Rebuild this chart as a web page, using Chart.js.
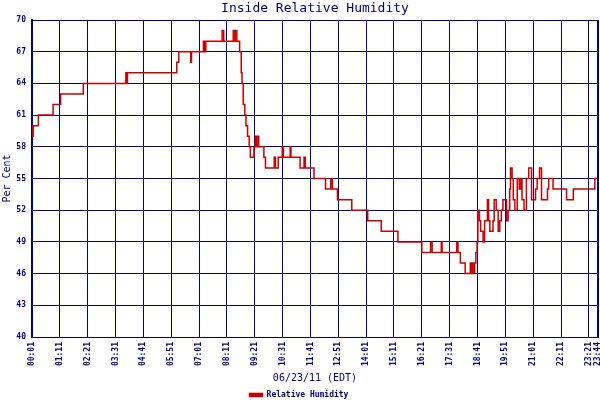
<!DOCTYPE html>
<html>
<head>
<meta charset="utf-8">
<title>Inside Relative Humidity</title>
<script src="https://cdn.jsdelivr.net/npm/chart.js@4"></script>
<style>
    html, body { margin: 0; padding: 0; background: #ffffff; }
</style>
</head>
<body>
<canvas id="humidityChart" width="600" height="400"></canvas>
<script>
// Tick labels along the time axis
const xTickLabels = ['00:01', '01:11', '02:21', '03:31', '04:41', '05:51', '07:01', '08:11', '09:21',
    '10:31', '11:41', '12:51', '14:01', '15:11', '16:21', '17:31', '18:41', '19:51', '21:01',
    '22:11', '23:21', '23:44'];

// Readings (time of change -> relative humidity in %)
const times = [
    '00:01', '00:02', '00:04', '00:17', '00:54', '01:13', '02:10', '03:57', '03:59', '04:01',
    '06:05', '06:10', '06:40', '06:42', '07:12', '07:15', '07:18', '07:59', '08:03', '08:27',
    '08:31', '08:32', '08:36', '08:43', '08:47', '08:49', '08:52', '08:56', '08:59', '09:03',
    '09:07', '09:10', '09:19', '09:23', '09:25', '09:27', '09:31', '09:44', '09:48', '10:10',
    '10:13', '10:20', '10:30', '10:33', '10:50', '10:52', '11:15', '11:25', '11:28', '11:50',
    '12:19', '12:32', '12:36', '12:49', '13:25', '14:05', '14:39', '15:21', '16:21', '16:43',
    '16:47', '17:10', '17:12', '17:49', '17:52', '17:58', '18:10', '18:23', '18:25', '18:28',
    '18:30', '18:34', '18:37', '18:40', '18:42', '18:46', '18:49', '18:55', '18:59', '19:06',
    '19:09', '19:12', '19:20', '19:23', '19:28', '19:33', '19:37', '19:41', '19:45', '19:54',
    '19:58', '20:02', '20:04', '20:08', '20:11', '20:15', '20:21', '20:26', '20:30', '20:33',
    '20:38', '20:44', '20:50', '20:57', '21:07', '21:11', '21:17', '21:22', '21:37', '21:40',
    '21:51', '22:25', '22:42', '23:36', '23:44'
];
const humidity = [
    60, 59, 60, 61, 62, 63, 64, 65, 64, 65,
    66, 67, 66, 67, 68, 67, 68, 69, 68, 69,
    68, 69, 68, 67, 65, 64, 62, 61, 60, 59,
    58, 57, 58, 59, 58, 59, 58, 57, 56, 57,
    56, 57, 58, 57, 58, 57, 56, 57, 56, 55,
    54, 55, 54, 53, 52, 51, 50, 49, 48, 49,
    48, 49, 48, 49, 48, 47, 46, 47, 46, 47,
    46, 47, 48, 49, 52, 51, 50, 49, 51, 53,
    51, 50, 51, 53, 52, 50, 51, 52, 53, 51,
    52, 54, 56, 55, 53, 52, 55, 54, 55, 53,
    52, 55, 56, 53, 54, 55, 56, 53, 54, 55,
    54, 53, 54, 55, 55
];

const NAVY = '#000080';
const RED = '#cc0000';
const MONO = '"DejaVu Sans Mono", "Liberation Mono", monospace';

function toMinutes(t) {
    const [h, m] = t.split(':').map(Number);
    return h * 60 + m;
}

const tickMinutes = xTickLabels.map(toMinutes);

// Title centred over the plot area, plus the heavier right-hand frame edge
const frameAndTitle = {
    id: 'frameAndTitle',
    afterDraw(chart) {
        const { ctx, chartArea } = chart;
        ctx.save();
        ctx.fillStyle = NAVY;
        ctx.font = '13px ' + MONO;
        ctx.textAlign = 'center';
        ctx.textBaseline = 'middle';
        ctx.fillText('Inside Relative Humidity', (chartArea.left + chartArea.right) / 2, 9);
        ctx.strokeStyle = NAVY;
        ctx.lineWidth = 2;
        ctx.beginPath();
        ctx.moveTo(chartArea.right, chartArea.top);
        ctx.lineTo(chartArea.right, chartArea.bottom);
        ctx.stroke();
        ctx.restore();
    }
};

const ctx = document.getElementById('humidityChart').getContext('2d');
const humidityChart = new Chart(ctx, {
    type: 'line',
    data: {
        datasets: [{
            label: 'Relative Humidity',
            data: times.map((t, i) => ({ x: toMinutes(t), y: humidity[i] })),
            borderColor: RED,
            backgroundColor: RED,
            borderWidth: 1.5,
            stepped: true,
            pointRadius: 0,
            fill: false
        }]
    },
    options: {
        responsive: false,
        animation: false,
        layout: {
            // legend keeps 10px of empty space under itself; push it off the bottom
            padding: { top: 20, right: 2, bottom: -9, left: 0 }
        },
        plugins: {
            title: { display: false },
            tooltip: { enabled: false },
            legend: {
                display: true,
                position: 'bottom',
                labels: {
                    color: NAVY,
                    font: { family: MONO, size: 8, weight: 'bold' },
                    boxWidth: 13,
                    boxHeight: 3,
                    padding: 4
                }
            }
        },
        scales: {
            x: {
                type: 'linear',
                min: toMinutes(xTickLabels[0]),
                max: toMinutes(xTickLabels[xTickLabels.length - 1]),
                afterBuildTicks: axis => {
                    axis.ticks = tickMinutes.map(v => ({ value: v }));
                },
                afterFit: axis => {
                    axis.height = 50;
                    axis.paddingLeft = 0;
                    axis.paddingRight = 0;
                },
                grid: {
                    color: NAVY,
                    lineWidth: 1,
                    drawTicks: false
                },
                border: { color: NAVY, width: 1 },
                ticks: {
                    autoSkip: false,
                    maxRotation: 90,
                    minRotation: 90,
                    padding: 5,
                    color: NAVY,
                    font: { family: MONO, size: 8, weight: 'bold' },
                    callback: value => xTickLabels[tickMinutes.indexOf(value)]
                },
                title: {
                    display: true,
                    text: '06/23/11 (EDT)',
                    color: NAVY,
                    font: { family: MONO, size: 10 },
                    padding: { top: 0, bottom: 3 }
                }
            },
            y: {
                min: 40,
                max: 70,
                afterFit: axis => {
                    axis.width = 32;
                },
                grid: {
                    color: NAVY,
                    lineWidth: 1,
                    drawTicks: false
                },
                border: { color: NAVY, width: 2 },
                ticks: {
                    stepSize: 3,
                    padding: 6,
                    color: NAVY,
                    font: { family: MONO, size: 8, weight: 'bold' }
                },
                title: {
                    display: true,
                    text: 'Per Cent',
                    color: NAVY,
                    font: { family: MONO, size: 10 },
                    padding: { top: 1, bottom: 0 }
                }
            }
        }
    },
    plugins: [frameAndTitle]
});
</script>
</body>
</html>
